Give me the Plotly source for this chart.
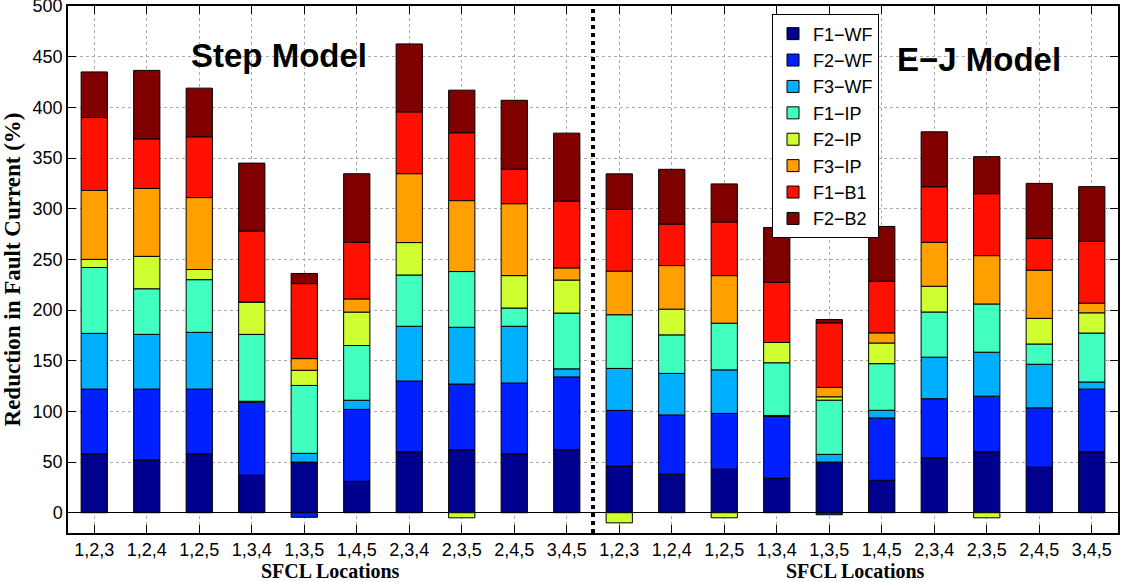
import plotly.graph_objects as go

locations = ["1,2,3", "1,2,4", "1,2,5", "1,3,4", "1,3,5", "1,4,5", "2,3,4", "2,3,5", "2,4,5", "3,4,5",
             "1,2,3", "1,2,4", "1,2,5", "1,3,4", "1,3,5", "1,4,5", "2,3,4", "2,3,5", "2,4,5", "3,4,5"]
positions = list(range(1, 21))

series_names = ["F1\u2212WF", "F2\u2212WF", "F3\u2212WF", "F1\u2212IP", "F2\u2212IP", "F3\u2212IP", "F1\u2212B1", "F2\u2212B2"]
colors = ["#00008F", "#0020FF", "#00AFFF", "#40FFBF", "#CFFF30", "#FF9F00", "#FF1000", "#800000"]

f1_wf = [58, 52, 58, 37, 50, 31, 60, 62, 58, 62, 46, 38, 43, 34, 50, 32, 54, 60, 45, 60]
f2_wf = [64, 70, 64, 72, -4.5, 71, 70, 65, 70, 72, 55, 58.5, 55, 61, -2, 61.5, 58.5, 55, 58.5, 62]
f3_wf = [55, 54, 56, 1, 8.6, 9, 54, 56, 56, 8, 41.4, 41, 43, 1, 7.6, 7.6, 41, 43.4, 43, 7]
f1_ip = [65, 45, 52, 66, 67, 54, 50.6, 55, 18, 55, 53, 38, 46, 52, 53.5, 46, 44.6, 47.6, 20, 48.3]
f2_ip = [8, 32, 10, 32, 15, 33, 32, -5, 32, 32.6, -10, 25.4, -5, 20, 3.3, 20.4, 25.4, -5, 25.3, 20]
f3_ip = [68, 67, 71, 0, 11.5, 13, 68, 70, 71, 12, 43, 43, 47, 0, 9.3, 10, 43.4, 47.7, 47.6, 9.5]
f1_b1 = [72, 49, 60, 70, 74, 56, 61, 67, 34, 66, 61, 41, 53, 59.5, 63.7, 51, 54.8, 61.2, 31.3, 61]
f2_b2 = [45, 67.5, 48, 67, 10, 67.5, 67, 42, 68, 67, 35, 54, 37.5, 54, 3.3, 54, 54.2, 36.5, 54.3, 54]

series_values = [f1_wf, f2_wf, f3_wf, f1_ip, f2_ip, f3_ip, f1_b1, f2_b2]

fig = go.Figure()
for name, col, vals in zip(series_names, colors, series_values):
    fig.add_trace(go.Bar(
        x=positions, y=vals, name=name, width=0.5,
        marker=dict(color=col, line=dict(color="black", width=1)),
    ))

fig.update_layout(
    width=1122, height=582,
    margin=dict(l=68, r=4, t=6, b=49, autoexpand=False),
    barmode="relative",
    plot_bgcolor="white", paper_bgcolor="white",
    font=dict(family="Liberation Sans, Arial", size=18, color="black"),
    showlegend=True,
    legend=dict(
        x=0.6705, y=0.984, xanchor="left", yanchor="top",
        bgcolor="white", bordercolor="black", borderwidth=1,
        font=dict(family="Liberation Sans, Arial", size=18, color="black"),
        tracegroupgap=0, traceorder="normal",
    ),
)

fig.update_xaxes(
    range=[0.5, 20.5], tickvals=positions, ticktext=locations, automargin=False,
    showline=True, linecolor="black", linewidth=1.5, mirror="ticks",
    ticks="inside", ticklen=8, tickcolor="black",
    showgrid=True, gridcolor="#AAAAAA", griddash="dot", gridwidth=1,
    tickfont=dict(size=18), zeroline=False,
)
fig.update_yaxes(
    range=[-20, 500.05], tickvals=list(range(0, 501, 50)), automargin=False,
    ticklabeloverflow="allow",
    showline=True, linecolor="black", linewidth=1.5, mirror="ticks",
    ticks="inside", ticklen=8, tickcolor="black",
    showgrid=True, gridcolor="#AAAAAA", griddash="dot", gridwidth=1,
    zeroline=True, zerolinecolor="black", zerolinewidth=1,
    tickfont=dict(size=18),
    title=dict(text="<b>Reduction in Fault Current (%)</b>",
               font=dict(family="Liberation Serif, Times New Roman", size=23), standoff=8),
)

fig.add_shape(type="line", xref="x", yref="paper", x0=10.5, x1=10.5, y0=0, y1=1,
              line=dict(color="black", width=4, dash="dot"))

fig.add_annotation(x=5.5, y=-0.048, xref="x", yref="paper", text="<b>SFCL Locations</b>",
                   showarrow=False, yanchor="top",
                   font=dict(family="Liberation Serif, Times New Roman", size=20))
fig.add_annotation(x=15.5, y=-0.048, xref="x", yref="paper", text="<b>SFCL Locations</b>",
                   showarrow=False, yanchor="top",
                   font=dict(family="Liberation Serif, Times New Roman", size=20))

fig.add_annotation(x=4.52, y=451, xref="x", yref="y", text="<b>Step Model</b>",
                   showarrow=False, font=dict(family="Liberation Sans, Arial", size=33))
fig.add_annotation(x=17.85, y=447, xref="x", yref="y", text="<b>E\u2212J Model</b>",
                   showarrow=False, font=dict(family="Liberation Sans, Arial", size=33))

fig.write_html("out.html")
